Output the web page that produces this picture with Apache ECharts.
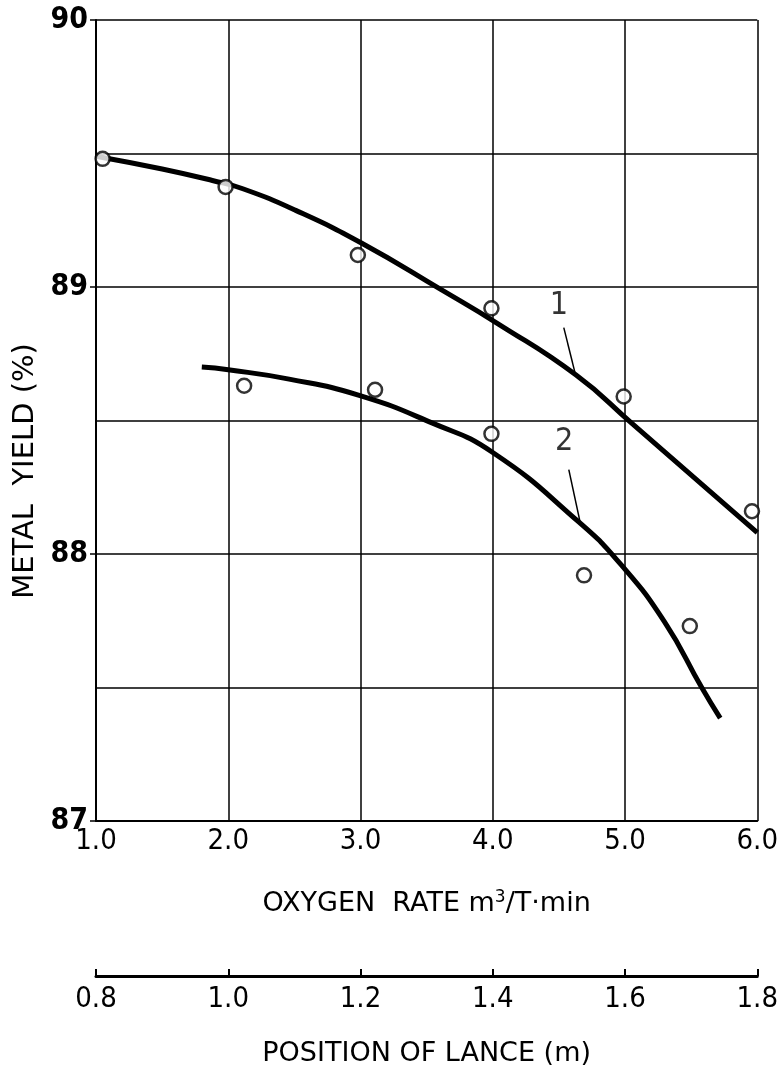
<!DOCTYPE html>
<html><head><meta charset="utf-8">
<script src="https://cdn.jsdelivr.net/npm/echarts@6/dist/echarts.min.js"></script>
<style>html,body{margin:0;padding:0;background:#fff}#c{width:781px;height:1072px}</style>
</head><body><div id="c"></div>
<script>
// Data
const xTicks = [1.0, 2.0, 3.0, 4.0, 5.0, 6.0];
const yTicks = [87, 88, 89, 90];
const lanceTicks = [0.8, 1.0, 1.2, 1.4, 1.6, 1.8];
const curve1 = [[1.0,89.49],[1.50,89.442],[1.88,89.399],[2.11,89.368],[2.51,89.287],[3.01,89.164],[3.61,88.99],[4.04,88.862],[4.63,88.67],[5.05,88.49],[6.0,88.08]];
const curve2 = [[1.80,88.70],[2.0,88.69],[2.46,88.655],[2.99,88.594],[3.54,88.491],[4.0,88.38],[4.65,88.12],[4.97,87.96],[5.30,87.745],[5.58,87.50],[5.72,87.385]];
const points1 = [[1.05,89.48],[1.98,89.375],[2.98,89.12],[3.99,88.92],[4.99,88.59],[5.96,88.16]];
const points2 = [[2.12,88.63],[3.11,88.615],[3.99,88.45],[4.69,87.92],[5.49,87.73]];
const label1 = {text:'1', pos:[4.50,88.93], leader:[[4.537,88.848],[4.627,88.669]]};
const label2 = {text:'2', pos:[4.54,88.42], leader:[[4.575,88.316],[4.66,88.12]]};

const chart = echarts.init(document.getElementById('c'), null, {renderer:'canvas'});
const axisFont = '"DejaVu Sans Condensed", "Liberation Sans", sans-serif';
const titleFont = '"DejaVu Sans", sans-serif';
const option = {
  animation:false,
  grid:{left:96, right:22, top:20, bottom:245, containLabel:false},
  xAxis:[{
    type:'value', min:1, max:6, interval:1,
    axisLine:{show:true, onZero:false, lineStyle:{color:'#000', width:2}},
    axisTick:{show:false},
    splitLine:{show:true, lineStyle:{color:'#000', width:1.5}},
    axisLabel:{margin:6, color:'#000', fontFamily:axisFont, fontSize:29,
      formatter:v=>xTicks.includes(v)?v.toFixed(1):''},
    name:'{a|OXYGEN  RATE m}{s|3}{a|/T·min}', nameLocation:'middle', nameGap:68,
    nameTextStyle:{rich:{a:{fontFamily:titleFont, fontSize:27, color:'#000'}, s:{fontFamily:titleFont, fontSize:17, color:'#000', verticalAlign:'top', padding:[0,0,12,0]}}}
  },{
    type:'value', min:0.8, max:1.8, interval:0.2, position:'bottom', offset:155,
    axisLine:{show:true, onZero:false, lineStyle:{color:'#000', width:3}},
    axisTick:{show:true, inside:true, length:7, lineStyle:{color:'#000', width:2}},
    splitLine:{show:false},
    axisLabel:{margin:9, color:'#000', fontFamily:axisFont, fontSize:29,
      formatter:v=>{const m=lanceTicks.find(t=>Math.abs(t-v)<1e-6);return m!==undefined?m.toFixed(1):'';}},
    name:'POSITION OF LANCE (m)', nameLocation:'middle', nameGap:64,
    nameTextStyle:{fontFamily:titleFont, fontSize:27, color:'#000'}
  }],
  yAxis:{
    type:'value', min:87, max:90, interval:1,
    axisLine:{show:true, onZero:false, lineStyle:{color:'#000', width:2}},
    axisTick:{show:true, length:6, lineStyle:{color:'#000', width:1.5}},
    splitLine:{show:true, lineStyle:{color:'#000', width:1.5}},
    minorTick:{show:false, splitNumber:2},
    minorSplitLine:{show:true, lineStyle:{color:'#000', width:1.5}},
    axisLabel:{margin:8, color:'#000', fontFamily:axisFont, fontWeight:'bold', fontSize:30,
      formatter:v=>yTicks.includes(v)?String(v):''}
  },
  graphic:[{
    type:'text', x:25, y:471, rotation:Math.PI/2,
    style:{text:'METAL  YIELD (%)', font:'29px "DejaVu Sans"', fill:'#000', textAlign:'center', textVerticalAlign:'middle'}
  }],
  series:[
    {type:'line', name:'1', data:curve1, smooth:0.5, showSymbol:false, lineStyle:{color:'#000', width:5}, z:3},
    {type:'line', name:'2', data:curve2, smooth:0.5, showSymbol:false, lineStyle:{color:'#000', width:5}, z:3},
    {type:'scatter', data:points1.concat(points2), symbol:'circle', symbolSize:14,
      itemStyle:{color:'#fff', borderColor:'#000', borderWidth:2.5}, z:5},
    {type:'line', data:label1.leader, showSymbol:false, lineStyle:{color:'#000', width:1.5}, z:4},
    {type:'line', data:label2.leader, showSymbol:false, lineStyle:{color:'#000', width:1.5}, z:4},
    {type:'scatter', symbolSize:0, z:6,
      data:[{value:label1.pos, name:label1.text},{value:label2.pos, name:label2.text}],
      label:{show:true, position:'inside', formatter:p=>p.name, fontFamily:axisFont, fontSize:32, color:'#000'}}
  ]
};
chart.setOption(option);
</script></body></html>
